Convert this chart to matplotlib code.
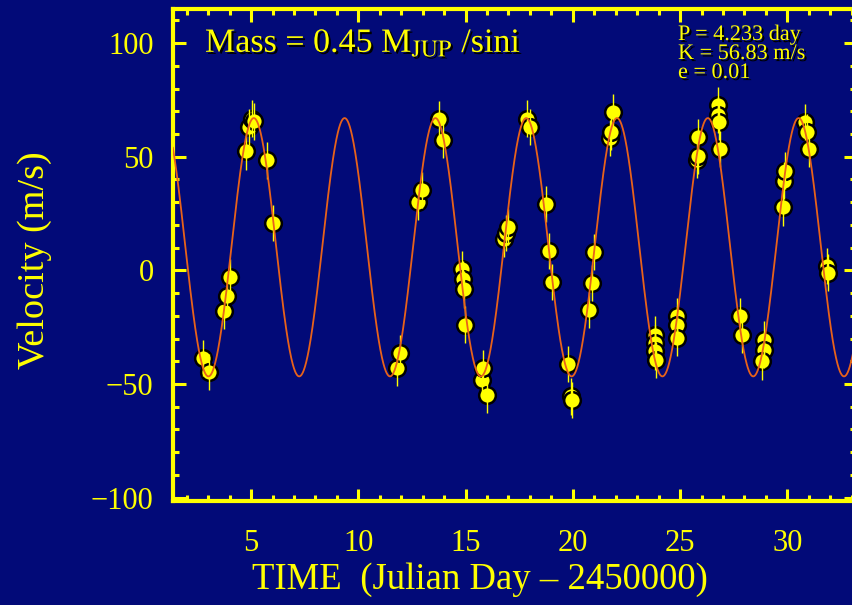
import numpy as np
import matplotlib
matplotlib.use("Agg")
import matplotlib.pyplot as plt
import matplotlib.patheffects as pe
from matplotlib.ticker import MultipleLocator

# ---- data ----
time = [2.76, 3.04, 3.74, 3.88, 4.02, 4.77, 4.92, 5.03, 5.15, 5.73, 6.03,
        11.81, 11.95, 12.76, 12.96, 13.74, 13.97,
        14.83, 14.90, 14.92, 14.98, 15.76, 15.82, 15.99,
        16.77, 16.88, 16.98, 17.86, 18.01, 18.76, 18.90, 19.02,
        19.77, 19.93, 19.97, 20.76, 20.89, 21.00, 21.71, 21.78, 21.85,
        23.84, 23.82, 23.84, 23.86, 24.87, 24.85, 24.86,
        25.79, 25.82, 25.85, 26.79, 26.79, 26.82, 26.87,
        27.81, 27.89, 28.90, 28.90, 28.82,
        29.78, 29.83, 29.91, 30.84, 30.92, 31.00, 31.85, 31.88]
velocity = [-38.5, -44.7, -17.7, -11.1, -3.1, 52.3, 63.0, 66.8, 65.5, 48.4, 20.8,
            -43.0, -36.4, 30.0, 35.4, 66.5, 57.5,
            0.4, -4.0, -8.4, -23.9, -48.2, -43.0, -54.9,
            13.7, 16.5, 19.0, 66.8, 63.1, 29.2, 8.5, -5.0,
            -41.2, -55.5, -57.0, -17.5, -5.5, 8.1, 58.3, 60.9, 69.8,
            -28.3, -32.0, -35.7, -39.4, -20.2, -23.9, -29.8,
            48.5, 50.5, 58.7, 72.7, 68.3, 65.4, 53.5,
            -20.2, -28.3, -30.5, -35.0, -40.1,
            27.7, 39.5, 43.9, 65.4, 60.9, 53.5, 1.9, -1.0]
error = 8.0

# orbit fit parameters (from the annotation) and fitted phase / offset
P_day = 4.233
K_ms = 56.83
ecc = 0.01
gamma = 9.6
t_peak = 9.36

xticks = [5, 10, 15, 20, 25, 30]
yticks = [-100, -50, 0, 50, 100]

BG = '#020a78'
YEL = '#ffff00'
ORA = '#e8621a'
FONT = 'Liberation Serif'

plt.rcParams['mathtext.fontset'] = 'stix'

fig = plt.figure(figsize=(8.52, 6.05), dpi=100, facecolor=BG)
ax = fig.add_axes([173/852, 1 - 501/605, (856-173)/852, (501-9)/605])
ax.set_facecolor(BG)

ax.plot(time, velocity, 'o', ms=12, mfc=YEL, mec='black', mew=1.8, zorder=2)
ax.errorbar(time, velocity, yerr=error, fmt='none', ecolor=YEL, elinewidth=1.0,
            capsize=0, zorder=3)

# Keplerian model curve (e small)
tt = np.linspace(1.0, 34.0, 3000)
M = 2*np.pi*(tt - t_peak)/P_day
E = M.copy()
for _ in range(20):
    E = M + ecc*np.sin(E)
nu = 2*np.arctan2(np.sqrt(1+ecc)*np.sin(E/2), np.sqrt(1-ecc)*np.cos(E/2))
model = gamma + K_ms*(np.cos(nu) + ecc)
ax.plot(tt, model, color=ORA, lw=1.3, zorder=4)

ax.set_xlim(1.36, 33.2)
ax.set_ylim(-101.5, 115)
ax.set_xticks(xticks)
ax.set_yticks(yticks)
ax.set_yticklabels([('\u2212' + str(-v)) if v < 0 else str(v) for v in yticks])
ax.xaxis.set_minor_locator(MultipleLocator(1))
ax.yaxis.set_minor_locator(MultipleLocator(10))
ax.tick_params(which='both', direction='in', colors=YEL, top=True, right=True,
               width=2.2)
ax.tick_params(which='major', length=9)
ax.tick_params(which='minor', length=4.5)
ax.tick_params(axis='x', which='major', pad=20, labelsize=22, labelcolor=YEL)
ax.tick_params(axis='y', which='major', pad=14, labelsize=22, labelcolor=YEL)
for lab in ax.get_xticklabels() + ax.get_yticklabels():
    lab.set_fontfamily(FONT)
for s in ax.spines.values():
    s.set_color(YEL)
    s.set_linewidth(3)

ax.set_xlabel('TIME  (Julian Day \u2013 2450000)', fontsize=26.5, color=YEL,
              family=FONT)
ax.xaxis.set_label_coords((480 - 173) / 683, (501 - 562) / 492)
ax.set_ylabel('Velocity (m/s)', fontsize=27.5, color=YEL, family=FONT)
ax.yaxis.set_label_coords((35 - 173) / 683, (501 - 260) / 492)
ax.yaxis.label.set_va('center')

shadow = [pe.withSimplePatchShadow(offset=(1.5, -1.5), shadow_rgbFace='black', alpha=1.0)]
ax.text(205/852, 1 - 52/605, r'Mass = 0.45 M$_{\rm JUP}$ /sini', transform=fig.transFigure,
        fontsize=24.5, color=YEL, family=FONT, ha='left', va='baseline',
        path_effects=shadow)
ax.text(678/852, 1 - 26/605,
        'P = %.3f day\nK = %.2f m/s\ne = %.2f' % (P_day, K_ms, ecc),
        transform=fig.transFigure, fontsize=16, color=YEL, family=FONT,
        ha='left', va='top', linespacing=1.0, path_effects=shadow)

fig.savefig('out.png', dpi=100, facecolor=BG)
